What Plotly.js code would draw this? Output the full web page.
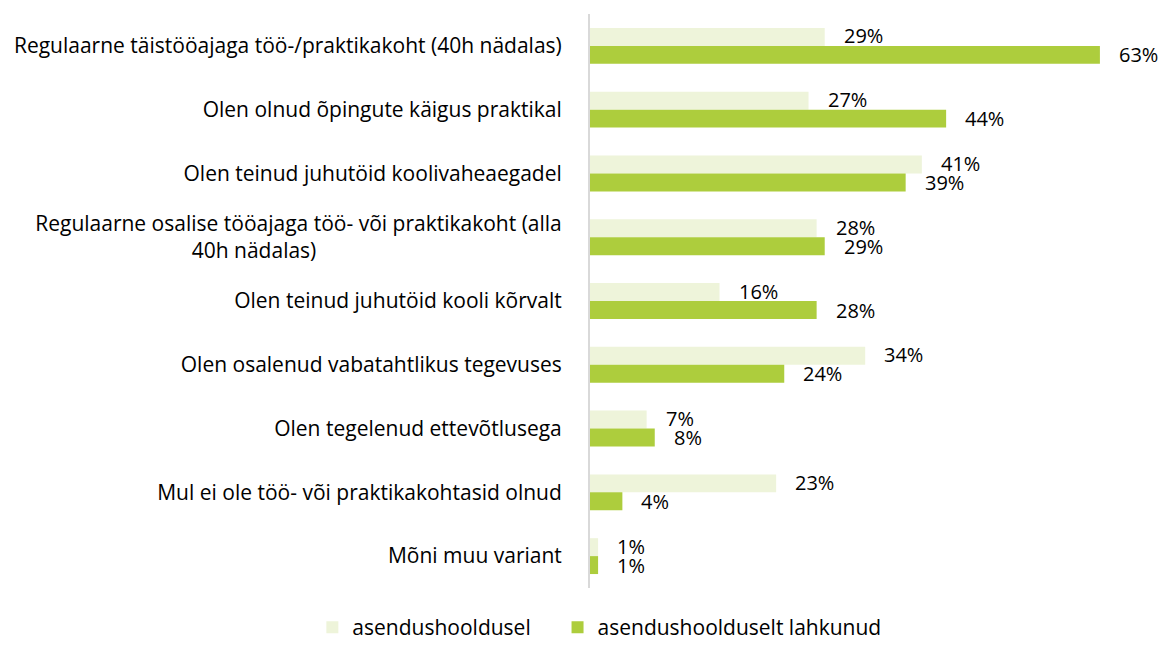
<!DOCTYPE html>
<html>
<head>
<meta charset="utf-8">
<script src="https://cdn.plot.ly/plotly-3.0.1.min.js"></script>
<style>html,body{margin:0;padding:0;background:#fff;}#chart{width:1161px;height:648px;}</style>
</head>
<body>
<div id="chart"></div>
<script>
var categories = [
  "Regulaarne täistööajaga töö-/praktikakoht (40h nädalas)",
  "Olen olnud õpingute käigus praktikal",
  "Olen teinud juhutöid koolivaheaegadel",
  "Regulaarne osalise tööajaga töö- või praktikakoht (alla<br>40h nädalas)",
  "Olen teinud juhutöid kooli kõrvalt",
  "Olen osalenud vabatahtlikus tegevuses",
  "Olen tegelenud ettevõtlusega",
  "Mul ei ole töö- või praktikakohtasid olnud",
  "Mõni muu variant"
];
var seriesNames = ["asendushooldusel", "asendushoolduselt lahkunud"];
var inCare = [29, 27, 41, 28, 16, 34, 7, 23, 1];
var leftCare = [63, 44, 39, 29, 28, 24, 8, 4, 1];

// centre the second line of the wrapped label under the first
var catLabels = categories.map(function(c){
  if (c.indexOf("<br>") < 0) return c;
  var parts = c.split("<br>");
  var pad = new Array(46).join("\u00a0");
  return parts[0] + "<br>" + parts[1] + pad;
});

var FONT = "'Open Sans', sans-serif";
var colors = ["#EEF4DA", "#ADCD3D"];

var traces = [
  {type:"bar", orientation:"h", name:seriesNames[0] + "\u00a0\u00a0\u00a0\u00a0", y:catLabels, x:inCare,
   marker:{color:colors[0]}, hoverinfo:"x+name"},
  {type:"bar", orientation:"h", name:seriesNames[1], y:catLabels, x:leftCare,
   marker:{color:colors[1]}, hoverinfo:"x+name"}
];

var annotations = [];
catLabels.forEach(function(c, i){
  annotations.push({x:inCare[i], y:c, xref:"x", yref:"y", text:inCare[i]+"%",
    showarrow:false, xanchor:"left", yanchor:"middle", xshift:17, yshift:10,
    font:{family:FONT, size:20, color:"#000"}});
  annotations.push({x:leftCare[i], y:c, xref:"x", yref:"y", text:leftCare[i]+"%",
    showarrow:false, xanchor:"left", yanchor:"middle", xshift:17, yshift:-9,
    font:{family:FONT, size:20, color:"#000"}});
});

var layout = {
  width:1161, height:648,
  margin:{l:590, r:53, t:14, b:60},
  paper_bgcolor:"#fff", plot_bgcolor:"#fff",
  barmode:"group", bargap:0.4375, bargroupgap:0,
  font:{family:FONT, size:20, color:"#000"},
  xaxis:{range:[0,64], showgrid:false, zeroline:false, showticklabels:false, ticks:"", showline:false, fixedrange:true},
  yaxis:{autorange:"reversed", showline:true, linecolor:"#D9D9D9", linewidth:2, ticks:"",
         showgrid:false, ticklabelstandoff:22, tickfont:{family:FONT, size:21, color:"#000"}},
  showlegend:true,
  legend:{orientation:"h", x:-0.536, xanchor:"left", xref:"paper", y:0, yref:"container", yanchor:"bottom",
          font:{family:FONT, size:21, color:"#000"}, traceorder:"normal"},
  annotations:annotations
};

Plotly.newPlot("chart", traces, layout, {displayModeBar:false, staticPlot:true});
</script>
</body>
</html>
